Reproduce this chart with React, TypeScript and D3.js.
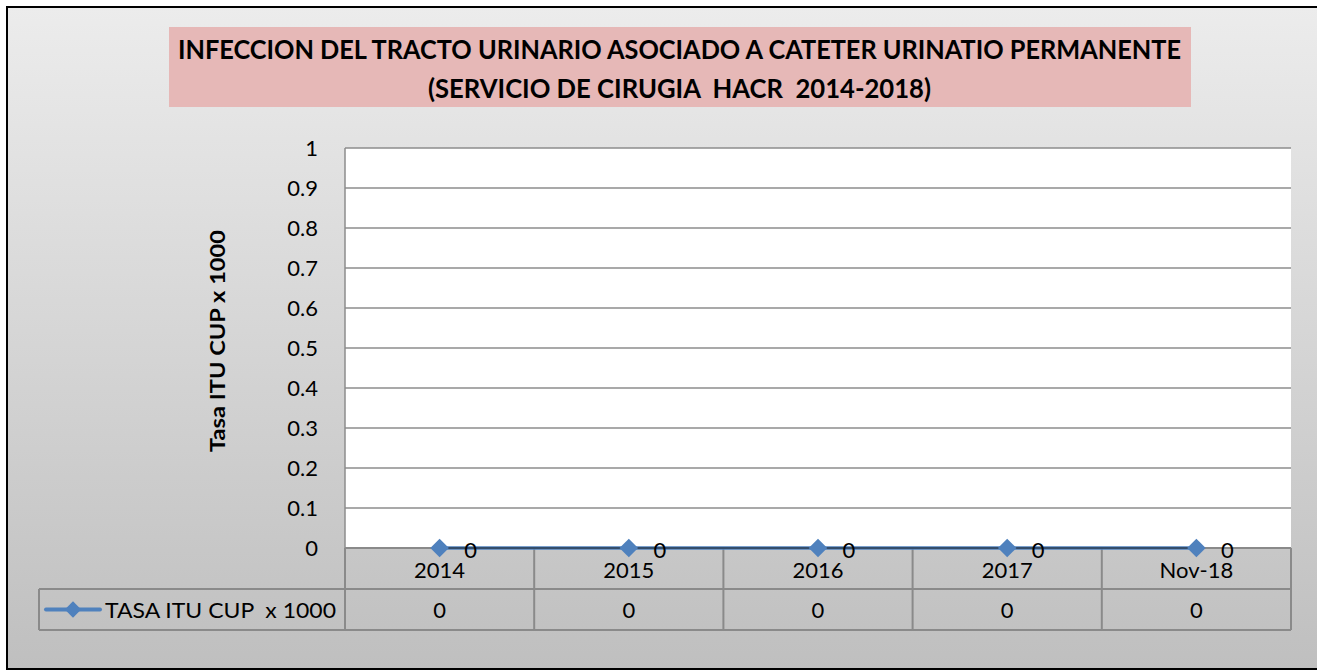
import React, { useEffect, useRef } from "react";
import * as d3 from "d3";

const titleLines = [
  "INFECCION DEL TRACTO URINARIO ASOCIADO A CATETER URINATIO PERMANENTE",
  "(SERVICIO DE CIRUGIA  HACR  2014-2018)",
];
const categories = ["2014", "2015", "2016", "2017", "Nov-18"];
const seriesName = "TASA ITU CUP  x 1000";
const seriesValues = [0, 0, 0, 0, 0];
const yTitle = "Tasa ITU CUP x 1000";
const yDomain = [0, 1];

// keep double spaces visible in svg text
const keepSpaces = (s: string) => s.replace(/  /g, " \u00A0");

const App = () => {
  const chartRef = useRef<HTMLDivElement>(null);

  useEffect(() => {
    const width = 1317;
    const height = 671;
    const plot = { left: 345, right: 1291, top: 148, bottom: 548 };
    const rowH = 41;
    const legendLeft = 39;
    const font = "Lato, 'Open Sans', sans-serif";
    const blue = "#4f81bd";
    const tableGray = "#8a8a8a";

    d3.select(chartRef.current).select("svg").remove();

    const svg = d3.select(chartRef.current)
      .append("svg")
      .attr("width", width)
      .attr("height", height)
      .style("display", "block");

    const grad = svg.append("defs").append("linearGradient")
      .attr("id", "bg")
      .attr("x1", 0).attr("y1", 0).attr("x2", 0).attr("y2", 1);
    grad.append("stop").attr("offset", "0%").attr("stop-color", "#ececec");
    grad.append("stop").attr("offset", "100%").attr("stop-color", "#bfbfbf");

    // chart area background + frame (right edge lies past the window)
    svg.append("rect")
      .attr("x", 7).attr("y", 7)
      .attr("width", 1400).attr("height", 662)
      .attr("fill", "url(#bg)")
      .attr("stroke", "#000")
      .attr("stroke-width", 2);

    // title box
    svg.append("rect")
      .attr("x", 169).attr("y", 27)
      .attr("width", 1022).attr("height", 80)
      .attr("fill", "#e6b8b7");

    const titleX = [178, 428];
    const titleW = [1003, 503];
    const titleY = [59, 98];
    titleLines.forEach((t, i) => {
      svg.append("text")
        .attr("x", titleX[i])
        .attr("y", titleY[i])
        .attr("textLength", titleW[i])
        .attr("lengthAdjust", "spacingAndGlyphs")
        .attr("font-family", font)
        .attr("font-weight", "bold")
        .attr("font-size", 26)
        .attr("fill", "#000")
        .text(keepSpaces(t));
    });

    const x = d3.scaleBand()
      .domain(categories)
      .range([plot.left, plot.right]);

    const y = d3.scaleLinear()
      .domain(yDomain)
      .range([plot.bottom, plot.top]);

    // plot area
    svg.append("rect")
      .attr("x", plot.left).attr("y", plot.top)
      .attr("width", plot.right - plot.left)
      .attr("height", plot.bottom - plot.top)
      .attr("fill", "#fff");

    const ticks = y.ticks(10);
    const fmt = d3.format("~g");

    svg.append("g")
      .selectAll("line")
      .data(ticks)
      .enter()
      .append("line")
      .attr("x1", plot.left)
      .attr("x2", plot.right)
      .attr("y1", d => y(d))
      .attr("y2", d => y(d))
      .attr("stroke", "#8c8c8c")
      .attr("stroke-width", 1.5);

    svg.append("line")
      .attr("x1", plot.left).attr("x2", plot.left)
      .attr("y1", plot.top).attr("y2", plot.bottom)
      .attr("stroke", "#8c8c8c")
      .attr("stroke-width", 1.5);

    svg.append("g")
      .selectAll("text")
      .data(ticks)
      .enter()
      .append("text")
      .attr("x", 318)
      .attr("y", d => y(d) + 8)
      .attr("text-anchor", "end")
      .attr("font-family", font)
      .attr("font-size", 22)
      .attr("fill", "#000")
      .text(d => fmt(d));

    svg.append("text")
      .attr("transform", `translate(225,${(230 + 452) / 2}) rotate(-90)`)
      .attr("text-anchor", "middle")
      .attr("font-family", font)
      .attr("font-weight", "bold")
      .attr("font-size", 21)
      .attr("textLength", 222)
      .attr("lengthAdjust", "spacingAndGlyphs")
      .attr("fill", "#000")
      .text(yTitle);

    // data table
    const table = svg.append("g")
      .attr("fill", "none")
      .attr("stroke", tableGray)
      .attr("stroke-width", 2);

    table.append("line")
      .attr("x1", plot.left).attr("x2", plot.right)
      .attr("y1", plot.bottom).attr("y2", plot.bottom);
    table.append("line")
      .attr("x1", legendLeft).attr("x2", plot.right)
      .attr("y1", plot.bottom + rowH).attr("y2", plot.bottom + rowH);
    table.append("line")
      .attr("x1", legendLeft).attr("x2", plot.right)
      .attr("y1", plot.bottom + 2 * rowH).attr("y2", plot.bottom + 2 * rowH);
    table.append("line")
      .attr("x1", legendLeft).attr("x2", legendLeft)
      .attr("y1", plot.bottom + rowH).attr("y2", plot.bottom + 2 * rowH);

    const bounds = categories.map(c => x(c) as number).concat([plot.right]);
    table.selectAll("line.v")
      .data(bounds)
      .enter()
      .append("line")
      .attr("x1", d => d).attr("x2", d => d)
      .attr("y1", plot.bottom).attr("y2", plot.bottom + 2 * rowH);

    const cx = (c: string) => (x(c) as number) + x.bandwidth() / 2;

    svg.append("g")
      .selectAll("text")
      .data(categories)
      .enter()
      .append("text")
      .attr("x", d => cx(d))
      .attr("y", plot.bottom + 30)
      .attr("text-anchor", "middle")
      .attr("font-family", font)
      .attr("font-size", 22)
      .attr("fill", "#000")
      .text(d => d);

    svg.append("g")
      .selectAll("text")
      .data(seriesValues)
      .enter()
      .append("text")
      .attr("x", (d, i) => cx(categories[i]))
      .attr("y", plot.bottom + rowH + 29)
      .attr("text-anchor", "middle")
      .attr("font-family", font)
      .attr("font-size", 22)
      .attr("fill", "#000")
      .text(d => fmt(d));

    // legend key
    const ly = plot.bottom + rowH + rowH / 2;
    svg.append("line")
      .attr("x1", 46).attr("x2", 100)
      .attr("y1", ly).attr("y2", ly)
      .attr("stroke", blue)
      .attr("stroke-width", 4)
      .attr("stroke-linecap", "round");
    svg.append("path")
      .attr("d", d3.symbol(d3.symbolDiamond2, 170)())
      .attr("transform", `translate(73,${ly})`)
      .attr("fill", blue);
    svg.append("text")
      .attr("x", 105)
      .attr("y", ly + 8)
      .attr("font-family", font)
      .attr("font-size", 22)
      .attr("textLength", 231)
      .attr("lengthAdjust", "spacingAndGlyphs")
      .attr("fill", "#000")
      .text(keepSpaces(seriesName));

    // series
    const pts = seriesValues.map((v, i) => [cx(categories[i]), y(v)] as [number, number]);
    svg.append("path")
      .attr("d", d3.line()(pts))
      .attr("fill", "none")
      .attr("stroke", blue)
      .attr("stroke-width", 3.5);
    svg.append("path")
      .attr("d", d3.line()(pts))
      .attr("fill", "none")
      .attr("stroke", "#1a1a1a")
      .attr("stroke-width", 1);

    svg.append("g")
      .selectAll("path")
      .data(pts)
      .enter()
      .append("path")
      .attr("d", d3.symbol(d3.symbolDiamond2, 220)())
      .attr("transform", d => `translate(${d[0]},${d[1]})`)
      .attr("fill", blue);

    svg.append("g")
      .selectAll("text")
      .data(seriesValues)
      .enter()
      .append("text")
      .attr("x", (d, i) => pts[i][0] + 31)
      .attr("y", (d, i) => pts[i][1] + 10)
      .attr("text-anchor", "middle")
      .attr("font-family", font)
      .attr("font-size", 22)
      .attr("fill", "#000")
      .text(d => fmt(d));
  }, []);

  return (
    <div>
      <style>{"body{margin:0;overflow:hidden}"}</style>
      <div ref={chartRef}></div>
    </div>
  );
};

export default App;
